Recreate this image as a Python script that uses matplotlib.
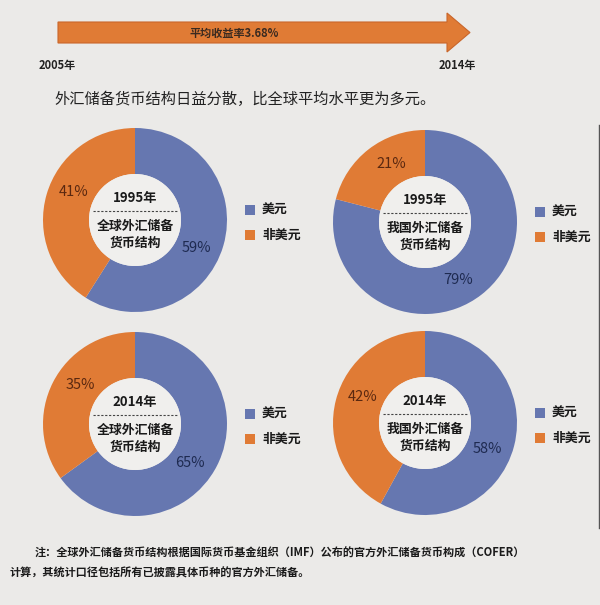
import matplotlib
matplotlib.use("Agg")
import matplotlib.pyplot as plt
from matplotlib.patches import Polygon, Circle, Rectangle
import numpy as np

plt.rcParams["font.family"] = ["Noto Sans CJK SC", "DejaVu Sans"]

# data
years = ["1995年", "1995年", "2014年", "2014年"]
scopes = ["全球外汇储备\n货币结构", "我国外汇储备\n货币结构",
          "全球外汇储备\n货币结构", "我国外汇储备\n货币结构"]
usd_share = [59, 79, 65, 58]
non_usd_share = [41, 21, 35, 42]
legend_labels = ["美元", "非美元"]
arrow_text = "平均收益率3.68%"
start_year, end_year = "2005年", "2014年"
subtitle = "外汇储备货币结构日益分散，比全球平均水平更为多元。"
note_lines = ["注：全球外汇储备货币结构根据国际货币基金组织（IMF）公布的官方外汇储备货币构成（COFER）",
              "计算，其统计口径包括所有已披露具体币种的官方外汇储备。"]

BG = "#ebeae8"
HOLE = "#f0efed"
BLUE = "#6677b0"
ORANGE = "#e07b35"
W, H = 600, 605

fig = plt.figure(figsize=(6, 6.05), dpi=100, facecolor=BG)
bg = fig.add_axes([0, 0, 1, 1])
bg.set_xlim(0, W)
bg.set_ylim(H, 0)
bg.axis("off")

# top arrow
body_top, body_bot, x0, x1, tip = 22, 43, 58, 447, 470
arrow = Polygon([(x0, body_top), (x1, body_top), (x1, 13), (tip, 32.5),
                 (x1, 52), (x1, body_bot), (x0, body_bot)],
                closed=True, facecolor=ORANGE, edgecolor="#c9662b", lw=0.8)
bg.add_patch(arrow)
bg.text(234, 33, arrow_text, ha="center", va="center", fontsize=8,
        fontweight="bold", color="#3a2a20")
bg.text(57, 65, start_year, ha="center", va="center", fontsize=8,
        fontweight="bold", color="#222222")
bg.text(457, 65, end_year, ha="center", va="center", fontsize=8,
        fontweight="bold", color="#222222")
bg.text(245, 99, subtitle, ha="center", va="center", fontsize=11,
        color="#222222")

# thin edge line on the right
bg.plot([598.5, 598.5], [125, 528], color="#555555", lw=1)

centers = [(135, 220), (425, 222), (135, 424), (425, 423)]
R = 92

for i, (cx, cy) in enumerate(centers):
    ax = fig.add_axes([(cx - R) / W, (H - cy - R) / H, 2 * R / W, 2 * R / H])
    vals = [usd_share[i], non_usd_share[i]]
    ax.pie(vals, colors=[BLUE, ORANGE], startangle=90, counterclock=False,
           radius=1, wedgeprops=dict(width=0.5, edgecolor="none"))
    ax.add_patch(Circle((0, 0), 0.5, facecolor=HOLE, edgecolor="none"))
    ax.set_xlim(-1, 1)
    ax.set_ylim(-1, 1)
    ax.set_aspect("equal")
    ax.axis("off")

    # percentage labels at mid-angle of each wedge
    ang = 90.0
    for v, c in zip(vals, ["#1e2a50", "#5a2810"]):
        span = 360.0 * v / sum(vals)
        mid = np.deg2rad(ang - span / 2 - 8)
        ax.text(0.73 * np.cos(mid), 0.73 * np.sin(mid), f"{v}%",
                ha="center", va="center", fontsize=10.5, color=c)
        ang -= span

    # centre text
    ax.text(0, 0.24, years[i], ha="center", va="center", fontsize=9.5,
            fontweight="bold", color="#1a1a1a")
    ax.plot([-0.46, 0.46], [0.1, 0.1], ls=(0, (2, 1.5)), color="#444444", lw=0.8)
    ax.text(0, -0.16, scopes[i], ha="center", va="center", fontsize=9.3,
            fontweight="bold", color="#1a1a1a", linespacing=1.25)

    # legend
    lx = cx + 115
    for j, (lab, col) in enumerate(zip(legend_labels, [BLUE, ORANGE])):
        ly = cy - 10 + j * 25
        bg.add_patch(Rectangle((lx - 5, ly - 5), 10, 10, facecolor=col, edgecolor="none"))
        bg.text(lx + 12, ly, lab, ha="left", va="center", fontsize=9.3,
                fontweight="bold", color="#1a1a1a")

# footnote
bg.text(35, 553, note_lines[0], ha="left", va="center", fontsize=8,
        fontweight="bold", color="#1a1a1a")
bg.text(10, 573, note_lines[1], ha="left", va="center", fontsize=8,
        fontweight="bold", color="#1a1a1a")

fig.savefig("out.png", dpi=100, facecolor=BG)
